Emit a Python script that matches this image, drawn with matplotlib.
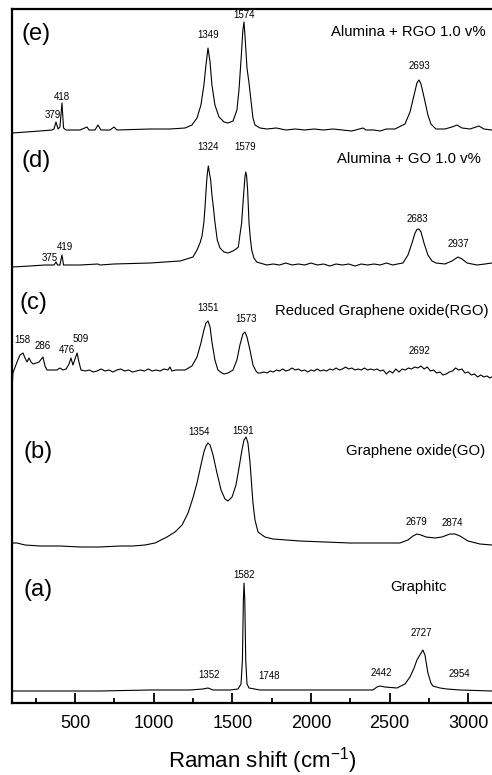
import numpy as np
import matplotlib
matplotlib.use('Agg')
import matplotlib.pyplot as plt
from matplotlib.ticker import MultipleLocator

plt.rcParams['font.family'] = ['Liberation Sans', 'DejaVu Sans']
plt.rcParams['mathtext.fontset'] = 'custom'
plt.rcParams['mathtext.rm'] = 'Liberation Sans'

# (raman shift cm-1, intensity a.u.) pairs

# (e) Alumina + RGO 1.0 v%
spec_e = [(100, 2), (276, 4), (353, 5), (365, 6), (378, 13), (391, 6), (403, 8), (416, 32), (426, 7), (442, 5),
          (531, 5), (575, 8), (588, 5), (626, 5), (645, 10), (664, 5), (721, 5), (747, 8), (766, 5), (976, 6),
          (1103, 6), (1199, 7), (1243, 10), (1275, 17), (1300, 30), (1319, 50), (1332, 70), (1345, 87), (1358, 73),
          (1370, 50), (1389, 30), (1415, 18), (1447, 13), (1472, 12), (1504, 14), (1529, 25), (1542, 45), (1555, 75),
          (1567, 105), (1574, 113), (1580, 100), (1593, 67), (1606, 52), (1618, 35), (1631, 17), (1644, 10),
          (1676, 7), (1720, 6), (1780, 7), (1840, 5), (1900, 6), (1960, 5), (2020, 6), (2080, 5), (2140, 6),
          (2200, 5), (2260, 4), (2331, 7), (2350, 5), (2400, 5), (2440, 4), (2480, 6), (2534, 6),
          (2598, 11), (2630, 23), (2656, 40), (2674, 52), (2687, 55), (2700, 51), (2719, 38), (2744, 20), (2763, 11),
          (2795, 6), (2852, 6), (2897, 8), (2929, 10), (2961, 7), (3012, 6), (3050, 8), (3068, 9), (3100, 6),
          (3151, 5), (3200, 5)]

# (d) Alumina + GO 1.0 v%
spec_d = [(100, 1), (213, 2), (308, 3), (365, 3), (378, 6), (388, 3), (403, 3), (416, 13), (426, 3), (531, 3),
          (645, 4), (658, 3), (747, 4), (976, 5), (1167, 7), (1230, 10), (1249, 11), (1275, 18), (1294, 25),
          (1307, 32), (1319, 46), (1326, 61), (1337, 88), (1342, 96), (1347, 102), (1353, 96), (1362, 88),
          (1370, 73), (1379, 61), (1389, 46), (1404, 28), (1421, 20), (1447, 16), (1472, 15), (1504, 17),
          (1523, 19), (1538, 21), (1548, 33), (1559, 45), (1569, 68), (1580, 91), (1585, 96), (1590, 93),
          (1597, 78), (1606, 45), (1614, 30), (1623, 18), (1637, 10), (1655, 6), (1718, 3),
          (1760, 4), (1800, 3), (1840, 5), (1880, 3), (1920, 4), (1960, 3), (2000, 5), (2040, 3), (2080, 4),
          (2120, 2), (2160, 4), (2200, 3), (2240, 4), (2280, 2), (2320, 4), (2360, 3), (2400, 4), (2440, 3),
          (2480, 5), (2520, 3), (2550, 4), (2585, 5), (2617, 13), (2643, 25), (2662, 35), (2674, 38.5),
          (2687, 39), (2700, 36), (2719, 25), (2744, 13), (2770, 7), (2795, 5), (2852, 4), (2897, 7), (2935, 11),
          (2961, 9), (2993, 5), (3056, 3), (3107, 4), (3151, 5), (3200, 5)]

# (c) Reduced graphene oxide
spec_c = [(100, -7), (104, 5), (130, 16), (149, 23), (168, 25), (181, 20), (194, 16), (206, 20), (219, 16),
          (232, 14), (251, 15), (270, 16), (295, 21), (308, 12), (321, 8), (353, 8), (384, 8), (403, 10), (423, 8),
          (442, 9), (461, 14), (473, 20), (486, 13), (499, 19), (512, 25), (524, 16), (537, 8),
          (565, 7), (590, 8), (615, 6), (640, 7), (665, 9), (690, 7), (715, 8), (740, 6), (765, 8), (790, 9),
          (815, 7), (840, 8), (865, 6), (890, 7), (915, 8), (940, 7), (965, 9), (990, 7), (1015, 8), (1040, 7),
          (1065, 9), (1090, 8), (1103, 11), (1115, 7), (1140, 8), (1165, 8),
          (1199, 8), (1243, 12), (1275, 21), (1300, 35), (1319, 48), (1332, 55), (1345, 57), (1358, 51), (1370, 36),
          (1389, 18), (1408, 8), (1434, 5), (1447, 4), (1472, 5), (1504, 8), (1529, 18), (1548, 33), (1567, 44),
          (1580, 46), (1593, 41), (1612, 28), (1631, 13), (1650, 7), (1663, 5),
          (1680, 5), (1700, 6), (1720, 5), (1740, 7), (1760, 6), (1780, 8), (1800, 7), (1820, 9), (1840, 7),
          (1860, 8), (1880, 10), (1900, 8), (1920, 9), (1940, 7), (1960, 8), (1980, 6), (2000, 8), (2020, 7),
          (2040, 9), (2060, 7), (2080, 8), (2100, 7), (2120, 9), (2140, 8), (2160, 10), (2180, 8), (2200, 9),
          (2220, 11), (2240, 9), (2260, 10), (2280, 8), (2300, 9), (2320, 8), (2340, 10), (2360, 8), (2380, 9),
          (2400, 8), (2420, 9), (2440, 7), (2460, 8), (2480, 4), (2500, 7), (2520, 5), (2540, 9), (2560, 6),
          (2580, 9), (2600, 8), (2620, 10), (2640, 9), (2660, 11), (2680, 10), (2700, 12), (2720, 9), (2740, 11),
          (2760, 7), (2780, 8), (2800, 5), (2820, 6), (2840, 3), (2860, 4), (2880, 6), (2900, 7), (2920, 10),
          (2940, 8), (2960, 9), (2980, 5), (3000, 6), (3020, 3), (3040, 4), (3060, 1), (3080, 3), (3100, 1),
          (3120, 2), (3140, 0), (3160, 2), (3180, 1), (3200, 2)]

# (b) Graphene oxide
spec_b = [(100, 5), (130, 5), (181, 3), (276, 2), (403, 2), (531, 1), (658, 1), (785, 2), (868, 2), (944, 3),
          (1008, 5), (1084, 11), (1135, 16), (1180, 23), (1218, 35), (1249, 50), (1275, 65), (1300, 83), (1319, 96),
          (1332, 102), (1345, 105), (1358, 103), (1377, 93), (1402, 75), (1428, 58), (1453, 49), (1472, 47),
          (1498, 51), (1523, 63), (1542, 80), (1561, 98), (1574, 108), (1587, 111), (1599, 105), (1612, 86),
          (1631, 45), (1644, 28), (1663, 16), (1707, 11), (1758, 9), (1930, 7), (2248, 5), (2566, 5), (2617, 8),
          (2649, 12), (2674, 14), (2700, 13), (2732, 11), (2789, 10), (2833, 11), (2884, 14), (2916, 14),
          (2948, 12), (2999, 7), (3075, 4), (3151, 3), (3200, 3)]

# (a) Graphite
spec_a = [(100, 1), (658, 1), (976, 2), (1230, 2), (1313, 3), (1345, 4), (1377, 2), (1485, 2), (1536, 3),
          (1555, 8), (1564, 32), (1570, 92), (1574, 109), (1579, 92), (1585, 32), (1593, 8), (1606, 4), (1676, 2),
          (1930, 2), (2394, 2), (2420, 5), (2439, 6), (2471, 5), (2547, 4), (2598, 8), (2630, 15), (2656, 24),
          (2674, 32), (2693, 37), (2712, 42), (2725, 37), (2744, 19), (2763, 9), (2776, 6), (2821, 4), (2865, 3),
          (2948, 2), (3151, 1), (3200, 1)]

sample_names = ['Alumina + RGO 1.0 v%', 'Alumina + GO 1.0 v%', 'Reduced Graphene oxide(RGO)',
                'Graphene oxide(GO)', 'Graphitc']
panel_letters = ['(e)', '(d)', '(c)', '(b)', '(a)']
peak_labels = [['379', '418', '1349', '1574', '2693'],
               ['375', '419', '1324', '1579', '2683', '2937'],
               ['158', '286', '476', '509', '1351', '1573', '2692'],
               ['1354', '1591', '2679', '2874'],
               ['1352', '1582', '1748', '2442', '2727', '2954']]

# layout: vertical offsets and where the texts go
offsets = [568, 435, 325, 155, 11]
peak_pos = [[(359, 588), (416, 606), (1345, 668), (1572, 688), (2687, 637)],
            [(340, 445), (435, 456), (1345, 556), (1578, 556), (2674, 484), (2935, 459)],
            [(162, 363), (295, 357), (448, 353), (537, 364), (1345, 395), (1587, 384), (2693, 352)],
            [(1291, 271), (1570, 272), (2674, 181), (2897, 180)],
            [(1351, 28), (1574, 128), (1733, 27), (2445, 30), (2700, 70), (2942, 29)]]
name_pos = [(2618, 671), (2625, 544), (2452, 392), (2668, 252), (2687, 116)]
letter_pos = [(251, 669), (251, 542), (232, 400), (263, 251), (263, 113)]

fig = plt.figure(figsize=(4.92, 7.75), dpi=100)
ax = fig.add_axes([12.3 / 492, 72 / 775, 487.3 / 492, 694 / 775])

spectra = [spec_e, spec_d, spec_c, spec_b, spec_a]
for i, spec in enumerate(spectra):
    x, y = np.array(spec, dtype=float).T
    ax.plot(x, y + offsets[i], color='black', lw=0.8)
    for lab, (px, py) in zip(peak_labels[i], peak_pos[i]):
        ax.text(px, py, lab, fontsize=7, ha='center', va='center')
    ax.text(name_pos[i][0], name_pos[i][1], sample_names[i], fontsize=10.7, ha='center', va='center')
    ax.text(letter_pos[i][0], letter_pos[i][1], panel_letters[i], fontsize=17, ha='center', va='center')

ax.set_xlim(100, 3200)
ax.set_ylim(0, 694)
ax.xaxis.set_major_locator(MultipleLocator(500))
ax.xaxis.set_minor_locator(MultipleLocator(250))
ax.tick_params(axis='x', which='both', direction='in', width=1.3, labelsize=13, pad=8.5)
ax.tick_params(axis='x', which='major', length=7)
ax.tick_params(axis='x', which='minor', length=3.5)
ax.set_yticks([])
for s in ax.spines.values():
    s.set_linewidth(1.6)

fig.text(262 / 492, 7 / 775, r'Raman shift (cm$^{\mathregular{-1}}$)', fontsize=16, ha='center', va='baseline')

fig.savefig('out.png', dpi=100)
